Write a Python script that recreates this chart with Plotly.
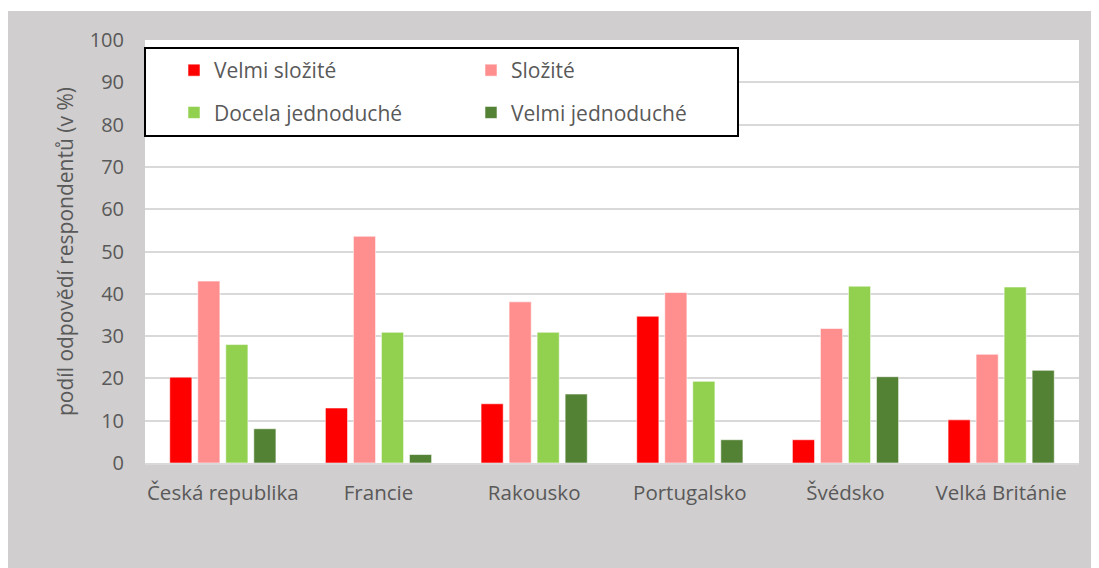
import plotly.graph_objects as go

categories = ["Česká republika", "Francie", "Rakousko", "Portugalsko", "Švédsko", "Velká Británie"]
velmi_slozite = [20.3, 13.0, 14.0, 34.7, 5.5, 10.2]
slozite = [43.0, 53.6, 38.1, 40.3, 31.8, 25.7]
docela_jednoduche = [28.0, 30.9, 30.9, 19.3, 41.8, 41.6]
velmi_jednoduche = [8.1, 2.0, 16.3, 5.5, 20.4, 21.9]
y_ticks = [0, 10, 20, 30, 40, 50, 60, 70, 80, 90, 100]

series = [
    ("Velmi složité", velmi_slozite, "#FF0000", "legend"),
    ("Složité", slozite, "#FF8F8F", "legend2"),
    ("Docela jednoduché", docela_jednoduche, "#92D050", "legend"),
    ("Velmi jednoduché", velmi_jednoduche, "#548235", "legend2"),
]

FONT = "Open Sans"
TXT = "#595959"

fig = go.Figure()
for i, (name, vals, col, lg) in enumerate(series):
    fig.add_trace(go.Bar(
        x=categories, y=vals, name=name, legend=lg, legendgroup=f"g{i}",
        marker=dict(color=col, line=dict(color="rgba(255,255,255,0.55)", width=1)),
    ))

# figure-pixel geometry (page has an 8px body margin)
FW, FH = 1091, 560
L, R, T, B = 137, 1071, 32, 455
W, H = R - L, B - T
def px(x): return (x - L) / W
def py(y): return (B - y) / H

fig.update_layout(
    width=FW, height=FH,
    margin=dict(l=L, r=FW - R, t=T, b=FH - B),
    paper_bgcolor="#D0CECE",
    plot_bgcolor="white",
    barmode="group",
    bargap=0.28,
    bargroupgap=0.21,
    font=dict(family=FONT, size=20, color=TXT),
    showlegend=True,
    legend=dict(x=px(166), y=py(42), xanchor="left", yanchor="top",
                orientation="v", bgcolor="rgba(0,0,0,0)", tracegroupgap=12,
                font=dict(family=FONT, size=21, color=TXT)),
    legend2=dict(x=px(463), y=py(42), xanchor="left", yanchor="top",
                 orientation="v", bgcolor="rgba(0,0,0,0)", tracegroupgap=12,
                 font=dict(family=FONT, size=21, color=TXT)),
    xaxis=dict(showgrid=False, showline=True, linecolor="#D9D9D9", linewidth=2,
               ticks="", ticklabelstandoff=10, tickfont=dict(family=FONT, size=20.5, color=TXT)),
    yaxis=dict(range=[0, 100], tickvals=y_ticks, showgrid=True, gridcolor="#D9D9D9",
               gridwidth=2, zeroline=False, showline=False, ticks="",
               ticklabelstandoff=20, tickfont=dict(family=FONT, size=20, color=TXT),
               title=dict(text="podíl odpovědí respondentů (v %)", standoff=10,
                          font=dict(family=FONT, size=21, color=TXT))),
    shapes=[
        # white strip above the grey chart box
        dict(type="rect", xref="paper", yref="paper", x0=px(-20), x1=px(1120),
             y0=py(3), y1=py(-20), fillcolor="white", line=dict(width=0), layer="above"),
        # legend frame
        dict(type="rect", xref="paper", yref="paper", x0=px(137), x1=px(730),
             y0=py(128), y1=py(40), fillcolor="white",
             line=dict(color="black", width=2), layer="above"),
    ],
)

fig.write_html("out.html")
